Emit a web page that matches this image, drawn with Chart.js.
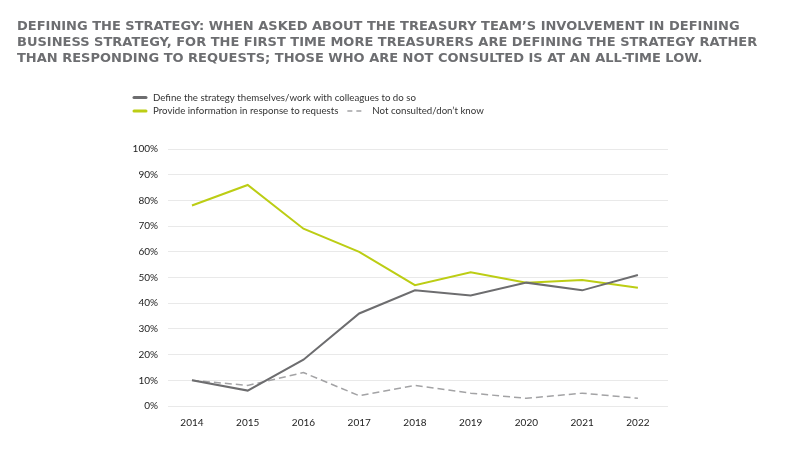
<!doctype html>
<html lang="en">
<head>
<meta charset="UTF-8">
<script src="https://cdn.jsdelivr.net/npm/chart.js@4.4.1/dist/chart.umd.min.js"></script>
<title>Defining the strategy</title>
<style>
  html, body { margin: 0; padding: 0; background: #fff; }
  #wrap { width: 792px; height: 456px; position: relative; }
</style>
</head>
<body>
<div id="wrap"><canvas id="canvas"></canvas></div>
<script>
    // values (percent)
    const years = [2014, 2015, 2016, 2017, 2018, 2019, 2020, 2021, 2022];
    const defineStrategy = [10, 6, 18, 36, 45, 43, 48, 45, 51];
    const provideInfo = [78, 86, 69, 60, 47, 52, 48, 49, 46];
    const notConsulted = [10, 8, 13, 4, 8, 5, 3, 5, 3];

    const seriesNames = [
        "Define the strategy themselves/work with colleagues to do so",
        "Provide information in response to requests",
        "Not consulted/don\u2019t know"
    ];
    const titleLines = [
        "DEFINING THE STRATEGY: WHEN ASKED ABOUT THE TREASURY TEAM\u2019S INVOLVEMENT IN DEFINING",
        "BUSINESS STRATEGY, FOR THE FIRST TIME MORE TREASURERS ARE DEFINING THE STRATEGY RATHER",
        "THAN RESPONDING TO REQUESTS; THOSE WHO ARE NOT CONSULTED IS AT AN ALL-TIME LOW."
    ];

    const textFont = "Lato, 'Noto Sans', sans-serif";
    const pairs = (vals) => vals.map((v, i) => ({ x: years[i], y: v }));

    // legend laid out like the original: first item on its own row
    const sideLegend = {
        id: "sideLegend",
        afterDraw(chart) {
            const ctx = chart.ctx;
            const ds = chart.data.datasets;
            ctx.save();
            ctx.font = "9.7px " + textFont;
            ctx.textBaseline = "middle";
            ctx.fillStyle = "#333333";

            const marker = (x, y, d) => {
                ctx.save();
                ctx.strokeStyle = d.borderColor;
                ctx.lineWidth = d.borderDash ? 1.5 : 3;
                ctx.lineCap = d.borderDash ? "butt" : "round";
                ctx.setLineDash(d.borderDash ? [5, 4] : []);
                ctx.beginPath();
                ctx.moveTo(x, y);
                ctx.lineTo(x + (d.borderDash ? 15 : 12), y);
                ctx.stroke();
                ctx.restore();
            };

            marker(134, 97.5, ds[0]);
            ctx.fillText(ds[0].label, 153, 97.5);

            marker(134, 111, ds[1]);
            ctx.fillText(ds[1].label, 153, 111);
            const x3 = 153 + ctx.measureText(ds[1].label).width + 9;
            marker(x3, 111, ds[2]);
            ctx.fillText(ds[2].label, x3 + 25, 111);
            ctx.restore();
        }
    };

    new Chart(document.getElementById("canvas"), {
        type: "line",
        data: {
            datasets: [
                {
                    label: seriesNames[0],
                    data: pairs(defineStrategy),
                    borderColor: "#6d6d6f",
                    borderWidth: 2,
                    pointRadius: 0,
                    tension: 0
                },
                {
                    label: seriesNames[1],
                    data: pairs(provideInfo),
                    borderColor: "#bccd14",
                    borderWidth: 2,
                    pointRadius: 0,
                    tension: 0
                },
                {
                    label: seriesNames[2],
                    data: pairs(notConsulted),
                    borderColor: "#a3a3a5",
                    borderWidth: 1.5,
                    borderDash: [7, 4],
                    pointRadius: 0,
                    tension: 0
                }
            ]
        },
        options: {
            responsive: true,
            maintainAspectRatio: false,
            animation: false,
            layout: { padding: { top: 19, left: 17, right: 17, bottom: 20 } },
            plugins: {
                legend: { display: false },
                tooltip: { enabled: false },
                title: {
                    display: true,
                    text: titleLines,
                    align: "start",
                    color: "#6d6e71",
                    font: { family: "'DejaVu Sans', sans-serif", size: 13, weight: "bold", lineHeight: "16px" },
                    padding: { top: 0, bottom: 82 }
                }
            },
            scales: {
                x: {
                    type: "linear",
                    min: 2013.57,
                    max: 2022.54,
                    grid: { display: false, drawTicks: false },
                    border: { display: false },
                    afterFit: (s) => { s.height = 30; },
                    ticks: {
                        stepSize: 1,
                        includeBounds: false,
                        padding: 11,
                        color: "#222222",
                        font: { family: textFont, size: 10 },
                        callback: (v) => String(v)
                    }
                },
                y: {
                    min: 0,
                    max: 100,
                    afterFit: (s) => { s.width = 151; },
                    grid: { color: "#e9e9e9", lineWidth: 1, drawTicks: false },
                    border: { display: false },
                    ticks: {
                        stepSize: 10,
                        padding: 10,
                        color: "#222222",
                        font: { family: textFont, size: 10 },
                        callback: (v) => v + "%"
                    }
                },
                // empty right-hand axis: only keeps the blank margin right of the plot
                spacer: {
                    axis: "y",
                    position: "right",
                    grid: { display: false, drawTicks: false },
                    border: { display: false },
                    ticks: { display: false },
                    afterFit: (s) => { s.width = 107; }
                }
            }
        },
        plugins: [sideLegend]
    });
</script>
</body>
</html>
